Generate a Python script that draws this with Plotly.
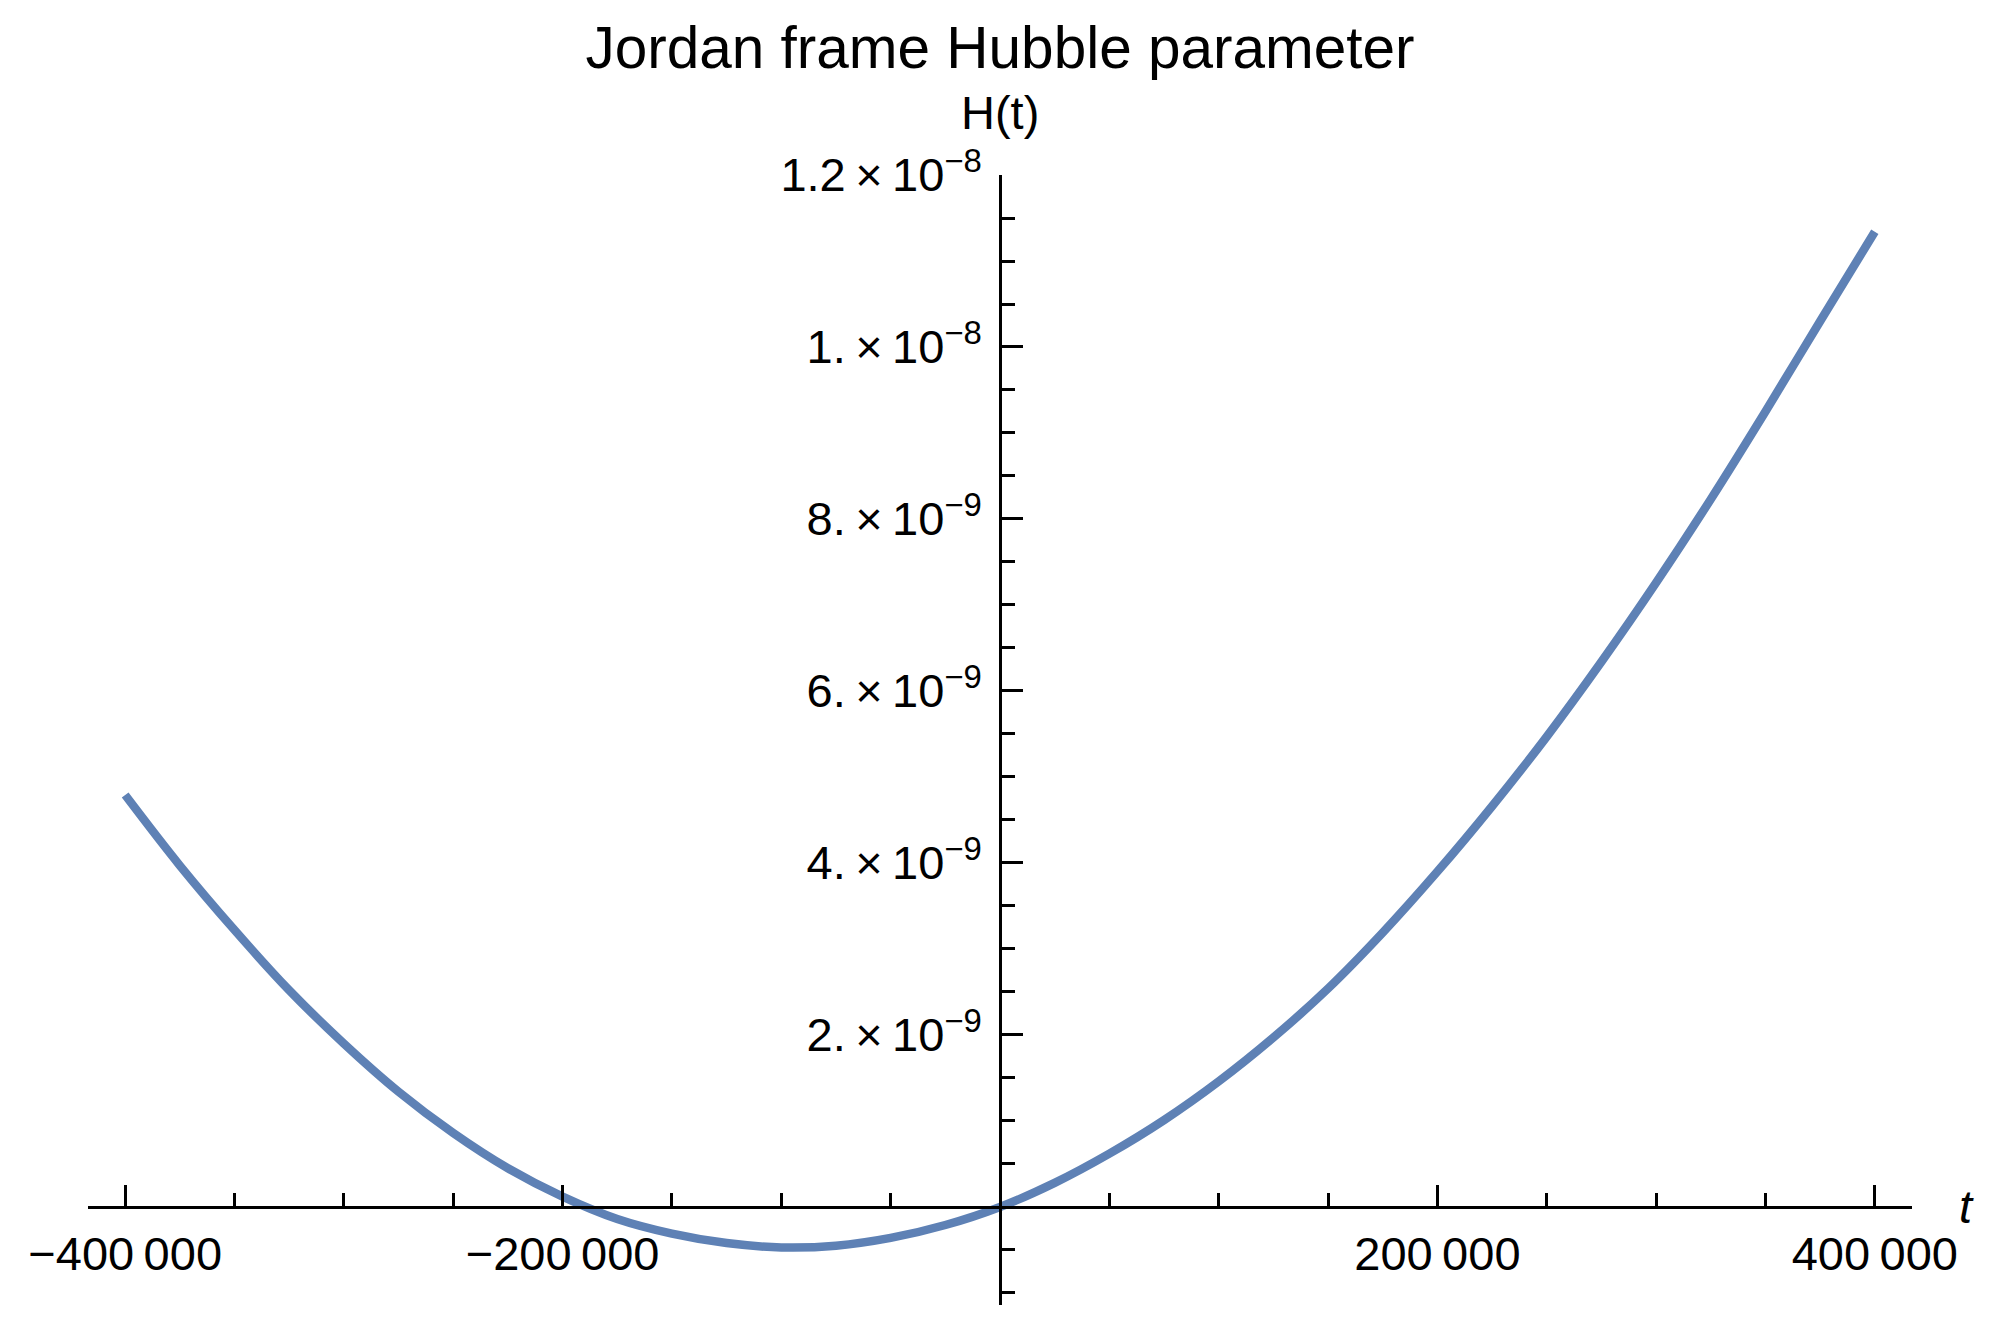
import plotly.graph_objects as go

# ---- data ----
t_values = [-400000, -375000, -350000, -325000, -300000, -275000, -250000, -225000,
            -200000, -175000, -150000, -125000, -100000, -75000, -50000, -25000,
            0, 25000, 50000, 75000, 100000, 125000, 150000, 175000,
            200000, 225000, 250000, 275000, 300000, 325000, 350000, 375000, 400000]
H_values = [4.79e-9, 3.97e-9, 3.22e-9, 2.52e-9, 1.90e-9, 1.34e-9, 0.86e-9, 0.45e-9,
            0.12e-9, -0.14e-9, -0.31e-9, -0.42e-9, -0.47e-9, -0.45e-9, -0.36e-9, -0.21e-9,
            0.0, 0.28e-9, 0.62e-9, 1.01e-9, 1.46e-9, 1.97e-9, 2.54e-9, 3.19e-9,
            3.90e-9, 4.66e-9, 5.47e-9, 6.34e-9, 7.26e-9, 8.23e-9, 9.25e-9, 10.30e-9, 11.34e-9]

x_tickvals = [-400000, -200000, 200000, 400000]
x_ticktext = ["\u2212400\u2009000", "\u2212200\u2009000", "200\u2009000", "400\u2009000"]
x_minor_vals = [-350000, -300000, -250000, -150000, -100000, -50000,
                50000, 100000, 150000, 250000, 300000, 350000]

y_tickvals = [2e-9, 4e-9, 6e-9, 8e-9, 1e-8, 1.2e-8]
y_ticktext = ["2.\u2009\u00d7\u200910<sup>\u22129</sup>", "4.\u2009\u00d7\u200910<sup>\u22129</sup>",
              "6.\u2009\u00d7\u200910<sup>\u22129</sup>", "8.\u2009\u00d7\u200910<sup>\u22129</sup>",
              "1.\u2009\u00d7\u200910<sup>\u22128</sup>", "1.2\u2009\u00d7\u200910<sup>\u22128</sup>"]
y_minor_vals = [-1e-9, -0.5e-9, 0.5e-9, 1e-9, 1.5e-9, 2.5e-9, 3e-9, 3.5e-9, 4.5e-9, 5e-9,
                5.5e-9, 6.5e-9, 7e-9, 7.5e-9, 8.5e-9, 9e-9, 9.5e-9, 10.5e-9, 11e-9, 11.5e-9]

title_text = "Jordan frame Hubble parameter"
y_label = "H(t)"
x_label = "t"

X_RANGE = [-417000, 417000]
Y_RANGE = [-1.14e-9, 1.2e-8]

FONT = "Liberation Sans, Arial, Helvetica, sans-serif"
CURVE_COLOR = "#5E81B5"

# the page body has an 8 px margin, so the figure is laid out 8 px smaller
W, H = 1990, 1324
ML, MT = 80, 167
PW, PH = 1824, 1130

fig = go.Figure()
fig.add_trace(go.Scatter(
    x=t_values, y=H_values, mode="lines",
    line=dict(color=CURVE_COLOR, width=8.5, shape="spline"),
    showlegend=False, hoverinfo="skip"))

x_pos = (0 - Y_RANGE[0]) / (Y_RANGE[1] - Y_RANGE[0])
y_pos = (0 - X_RANGE[0]) / (X_RANGE[1] - X_RANGE[0])

fig.update_layout(
    template="none",
    width=W, height=H,
    margin=dict(l=ML, r=W - ML - PW, t=MT, b=H - MT - PH, autoexpand=False),
    paper_bgcolor="white", plot_bgcolor="white",
    font=dict(family=FONT, color="black", size=47),
    title=dict(text=title_text, x=(ML + PW / 2) / W, xref="container", xanchor="center",
               y=1 - 40 / H, yref="container", yanchor="middle",
               font=dict(family=FONT, size=58.5, color="black")),
    xaxis=dict(range=X_RANGE, anchor="free", position=x_pos, side="bottom",
               showline=True, linecolor="black", linewidth=2.6,
               showgrid=False, zeroline=False, automargin=False,
               tickmode="array", tickvals=x_tickvals, ticktext=x_ticktext,
               ticks="inside", ticklen=21, tickwidth=2.6, tickcolor="black",
               tickfont=dict(family=FONT, size=47, color="black"),
               ticklabelstandoff=5,
               minor=dict(tickmode="array", tickvals=x_minor_vals, ticks="inside",
                          ticklen=13, tickwidth=2.6, tickcolor="black", showgrid=False)),
    yaxis=dict(range=Y_RANGE, anchor="free", position=y_pos, side="left",
               showline=True, linecolor="black", linewidth=2.6,
               showgrid=False, zeroline=False, automargin=False,
               tickmode="array", tickvals=y_tickvals, ticktext=y_ticktext,
               ticks="inside", ticklen=21, tickwidth=2.6, tickcolor="black",
               tickfont=dict(family=FONT, size=47, color="black"),
               ticklabelstandoff=8,
               minor=dict(tickmode="array", tickvals=y_minor_vals, ticks="inside",
                          ticklen=13, tickwidth=2.6, tickcolor="black", showgrid=False)),
    annotations=[
        dict(text=y_label, x=0, xref="x", y=1 + (175 - 113) / PH, yref="paper",
             xanchor="center", yanchor="middle", showarrow=False,
             font=dict(family=FONT, size=47, color="black")),
        dict(text="<i>" + x_label + "</i>", x=(1966 - 88) / PW, xref="paper", y=0, yref="y",
             xanchor="center", yanchor="middle", showarrow=False,
             font=dict(family=FONT, size=47, color="black")),
    ],
)

fig.write_html("out.html")
